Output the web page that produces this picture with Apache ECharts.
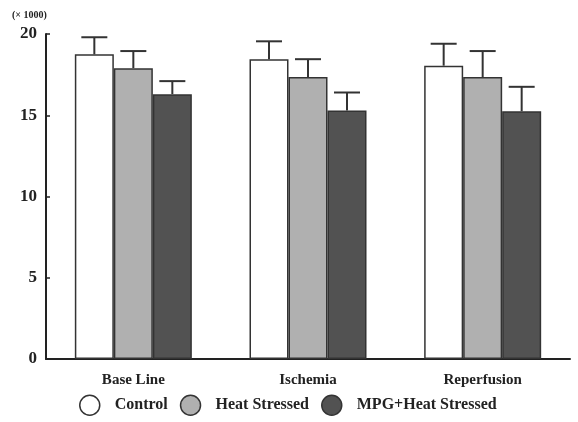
<!DOCTYPE html>
<html><head><meta charset="utf-8">
<script src="https://cdn.jsdelivr.net/npm/echarts@6/dist/echarts.min.js"></script>
<style>html,body{margin:0;padding:0;background:#fff}#c{width:578px;height:422px}</style>
</head><body><div id="c"></div>
<script>
const categories = ['Base Line', 'Ischemia', 'Reperfusion'];
const seriesNames = ['Control', 'Heat Stressed', 'MPG+Heat Stressed'];
const controlMean = [18.75, 18.45, 18.05];
const heatMean = [17.9, 17.35, 17.35];
const mpgMean = [16.3, 15.3, 15.25];
const controlErr = [1.05, 1.1, 1.35];
const heatErr = [1.05, 1.1, 1.6];
const mpgErr = [0.8, 1.1, 1.5];
const yTicks = [0, 5, 10, 15, 20];

const means = [controlMean, heatMean, mpgMean];
const errs = [controlErr, heatErr, mpgErr];
const fills = ['#ffffff', '#b0b0b0', '#525252'];
const BW = 39;
const serif = '"Liberation Serif","DejaVu Serif",serif';

const chart = echarts.init(document.getElementById('c'));
const series = [];
means.forEach((m, i) => {
  series.push({
    name: seriesNames[i], type: 'bar', data: m, barWidth: BW, barGap: '0%',
    itemStyle: { color: fills[i], borderColor: '#333', borderWidth: 1.5 },
    z: 2
  });
});
means.forEach((m, i) => {
  series.push({
    type: 'custom', name: 'err' + i, z: 3, silent: true,
    data: m.map((v, k) => [k, v, v + errs[i][k]]),
    renderItem: function (params, api) {
      const c = api.value(0);
      const base = api.coord([c, api.value(1)]);
      const top = api.coord([c, api.value(2)]);
      const x = base[0] + (i - 1) * BW;
      const half = 13;
      const st = { stroke: '#333', lineWidth: 2 };
      return { type: 'group', children: [
        { type: 'line', shape: { x1: x, y1: base[1], x2: x, y2: top[1] }, style: st },
        { type: 'line', shape: { x1: x - half, y1: top[1], x2: x + half, y2: top[1] }, style: st }
      ]};
    }
  });
});

chart.setOption({
  animation: false,
  backgroundColor: '#fff',
  grid: { left: 46, right: 8, top: 34, bottom: 63 },
  graphic: [{ type: 'text', left: 12, top: 10, style: { text: '(× 1000)', font: 'bold 10px ' + serif, fill: '#222' } }],
  legend: {
    data: seriesNames.map(n => ({ name: n, icon: 'circle' })),
    bottom: 1, left: 74, itemWidth: 20, itemHeight: 20, itemGap: 12,
    textStyle: { fontFamily: serif, fontWeight: 'bold', fontSize: 16, color: '#222', padding: [0, 0, 0, 10] },
    itemStyle: { borderColor: '#333', borderWidth: 1.5 }
  },
  xAxis: {
    type: 'category', data: categories,
    axisLine: { lineStyle: { color: '#222', width: 2 } },
    axisTick: { inside: true, length: 5, lineStyle: { color: '#222', width: 1.5 } },
    axisLabel: { fontFamily: serif, fontWeight: 'bold', fontSize: 15, color: '#222', margin: 14 }
  },
  yAxis: {
    type: 'value', min: 0, max: 20, interval: 5,
    axisLine: { show: true, lineStyle: { color: '#222', width: 2 } },
    axisTick: { show: true, inside: true, length: 4, lineStyle: { color: '#222', width: 1.5 } },
    splitLine: { show: false },
    axisLabel: { fontFamily: serif, fontWeight: 'bold', fontSize: 17, color: '#222', margin: 9,
      formatter: v => yTicks.includes(v) ? String(v) : '' }
  },
  series: series
});
</script></body></html>
